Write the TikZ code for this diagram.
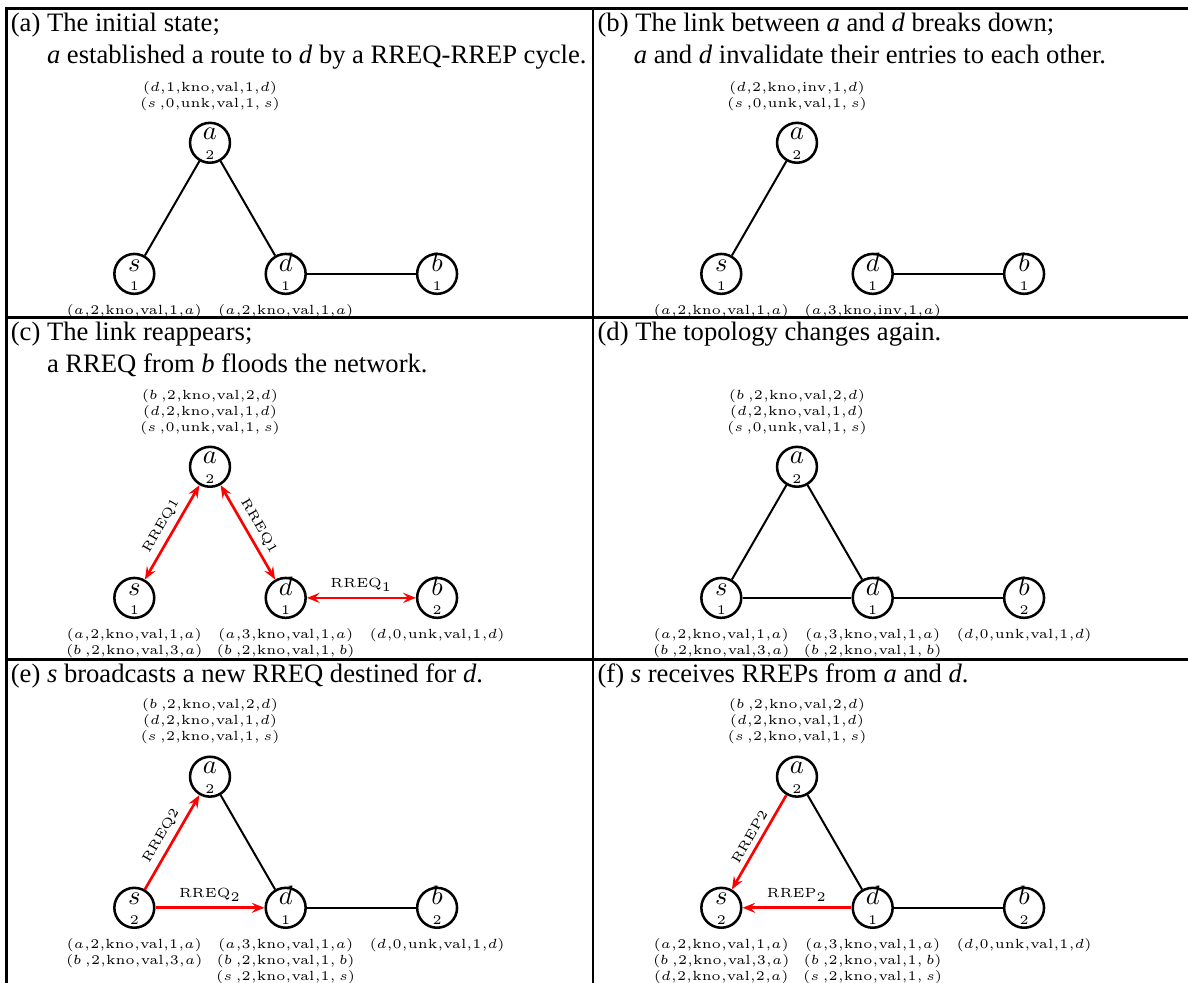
\documentclass[tikz,border=0pt]{standalone}
\usepackage[no-math]{fontspec}
\setmainfont{Liberation Serif}
\usetikzlibrary{arrows.meta}
\newcommand\myent[6]{$(#1{,}#2{,}\mathrm{#3}{,}\mathrm{#4}{,}#5{,}#6)$}
\newcommand\mknodes[5]{%
  \node[nd] (s#1) at (134.3,131.1) {};
  \node[nd] (a#1) at (210,0) {};
  \node[nd] (d#1) at (285.7,131.1) {};
  \node[nd] (b#1) at (437.1,131.1) {};
  \node[ltr] (s#1L) at ([yshift=1.05pt]s#1.center) {$s$};
  \node[ltr] (a#1L) at ([yshift=1.05pt]a#1.center) {$a$};
  \node[ltr] (d#1L) at ([yshift=1.05pt]d#1.center) {$d$};
  \node[ltr] (b#1L) at ([yshift=1.05pt]b#1.center) {$b$};
  \node[numtxt] (s#1N) at ([yshift=-6.2pt]s#1.center) {$#2$};
  \node[numtxt] (a#1N) at ([yshift=-6.2pt]a#1.center) {$#3$};
  \node[numtxt] (d#1N) at ([yshift=-6.2pt]d#1.center) {$#4$};
  \node[numtxt] (b#1N) at ([yshift=-6.2pt]b#1.center) {$#5$};
}
\begin{document}
\begin{tikzpicture}[x=0.37586pt,y=-0.37586pt,
  >={Stealth[length=4.8pt,width=3.8pt,inset=1.8pt]},
  nd/.style={circle,draw,line width=0.95pt,minimum size=15pt,inner sep=0pt},
  ltr/.style={anchor=base,inner sep=0pt,font=\normalsize},
  numtxt/.style={anchor=base,inner sep=0pt,font=\tiny},
  labtxt/.style={align=center,inner sep=0pt,font=\tiny},
  labup/.style={labtxt,anchor=south,yshift=12pt},
  labdn/.style={labtxt,anchor=north,yshift=-11.46pt},
  lnk/.style={line width=0.75pt},
  msg/.style={draw=red,line width=1pt},
  mlab/.style={font=\tiny,midway,above,sloped,inner sep=2pt},
  captxt/.style={anchor=base west,inner sep=0pt,font=\fontsize{10}{12}\selectfont},
  frm/.style={line width=0.95pt}]
\useasboundingbox (0,0) rectangle (1188,983);
% frame
\draw[line width=1.1pt] (5,8.5) -- (1188,8.5);
\draw[frm] (5,317.5) -- (1188,317.5);
\draw[frm] (5,659.5) -- (1188,659.5);
\draw[frm] (6.5,8.5) -- (6.5,983);
\draw[frm] (593,8.5) -- (593,983);
% captions
\node[captxt] (ca1) at (10.3,31.7) {(a) The initial state;};
\node[captxt] (ca2) at (46.5,63.6) {\textit{a} established a route to \textit{d} by a RREQ-RREP cycle.};
\node[captxt] (cb1) at (597.1,31.7) {(b) The link between \textit{a} and \textit{d} breaks down;};
\node[captxt] (cb2) at (633.3,63.6) {\textit{a} and \textit{d} invalidate their entries to each other.};
\node[captxt] (cc1) at (10.3,340.7) {(c) The link reappears;};
\node[captxt] (cc2) at (46.5,372.6) {a RREQ from \textit{b} floods the network.};
\node[captxt] (cd1) at (597.1,340.7) {(d) The topology changes again.};
\node[captxt] (ce1) at (10.3,682.7) {(e) \textit{s} broadcasts a new RREQ destined for \textit{d}.};
\node[captxt] (cf1) at (597.1,682.7) {(f) \textit{s} receives RREPs from \textit{a} and \textit{d}.};
% panel a
\begin{scope}[shift={(0,142.8)}]
\mknodes{1}{1}{2}{1}{1}
\draw[lnk] (s1) -- (a1);
\draw[lnk] (a1) -- (d1);
\draw[lnk] (d1) -- (b1);
\node[labup] (la1) at (a1.center) {\myent{d}{1}{kno}{val}{1}{d}\\\myent{s\,}{0}{unk}{val}{1}{\,s}};
\node[labdn] (ls1) at (s1.center) {\myent{a}{2}{kno}{val}{1}{a}};
\node[labdn] (ld1) at (d1.center) {\myent{a}{2}{kno}{val}{1}{a}};
\end{scope}
% panel b
\begin{scope}[shift={(587,142.8)}]
\mknodes{2}{1}{2}{1}{1}
\draw[lnk] (s2) -- (a2);
\draw[lnk] (d2) -- (b2);
\node[labup] (la2) at (a2.center) {\myent{d}{2}{kno}{inv}{1}{d}\\\myent{s\,}{0}{unk}{val}{1}{\,s}};
\node[labdn] (ls2) at (s2.center) {\myent{a}{2}{kno}{val}{1}{a}};
\node[labdn] (ld2) at (d2.center) {\myent{a}{3}{kno}{inv}{1}{a}};
\end{scope}
% panel c
\begin{scope}[shift={(0,466.8)}]
\mknodes{3}{1}{2}{1}{2}
\draw[msg,<->] (s3) -- node[mlab] (m3sa) {$\mathrm{RREQ1}$} (a3);
\draw[msg,<->] (a3) -- node[mlab] (m3ad) {$\mathrm{RREQ1}$} (d3);
\draw[msg,<->] (d3) -- node[mlab] (m3db) {$\mathrm{RREQ}_1$} (b3);
\node[labup] (la3) at (a3.center) {\myent{b\,}{2}{kno}{val}{2}{d}\\\myent{d}{2}{kno}{val}{1}{d}\\\myent{s\,}{0}{unk}{val}{1}{\,s}};
\node[labdn] (ls3) at (s3.center) {\myent{a}{2}{kno}{val}{1}{a}\\\myent{b\,}{2}{kno}{val}{3}{a}};
\node[labdn] (ld3) at (d3.center) {\myent{a}{3}{kno}{val}{1}{a}\\\myent{b\,}{2}{kno}{val}{1}{\,b}};
\node[labdn] (lb3) at (b3.center) {\myent{d}{0}{unk}{val}{1}{d}};
\end{scope}
% panel d
\begin{scope}[shift={(587,466.8)}]
\mknodes{4}{1}{2}{1}{2}
\draw[lnk] (s4) -- (a4);
\draw[lnk] (a4) -- (d4);
\draw[lnk] (s4) -- (d4);
\draw[lnk] (d4) -- (b4);
\node[labup] (la4) at (a4.center) {\myent{b\,}{2}{kno}{val}{2}{d}\\\myent{d}{2}{kno}{val}{1}{d}\\\myent{s\,}{0}{unk}{val}{1}{\,s}};
\node[labdn] (ls4) at (s4.center) {\myent{a}{2}{kno}{val}{1}{a}\\\myent{b\,}{2}{kno}{val}{3}{a}};
\node[labdn] (ld4) at (d4.center) {\myent{a}{3}{kno}{val}{1}{a}\\\myent{b\,}{2}{kno}{val}{1}{\,b}};
\node[labdn] (lb4) at (b4.center) {\myent{d}{0}{unk}{val}{1}{d}};
\end{scope}
% panel e
\begin{scope}[shift={(0,776.7)}]
\mknodes{5}{2}{2}{1}{2}
\draw[msg,->] (s5) -- node[mlab] (m5sa) {$\mathrm{RREQ2}$} (a5);
\draw[msg,->] (s5) -- node[mlab] (m5sd) {$\mathrm{RREQ}_2$} (d5);
\draw[lnk] (a5) -- (d5);
\draw[lnk] (d5) -- (b5);
\node[labup] (la5) at (a5.center) {\myent{b\,}{2}{kno}{val}{2}{d}\\\myent{d}{2}{kno}{val}{1}{d}\\\myent{s\,}{2}{kno}{val}{1}{\,s}};
\node[labdn] (ls5) at (s5.center) {\myent{a}{2}{kno}{val}{1}{a}\\\myent{b\,}{2}{kno}{val}{3}{a}};
\node[labdn] (ld5) at (d5.center) {\myent{a}{3}{kno}{val}{1}{a}\\\myent{b\,}{2}{kno}{val}{1}{\,b}\\\myent{s\,}{2}{kno}{val}{1}{\,s}};
\node[labdn] (lb5) at (b5.center) {\myent{d}{0}{unk}{val}{1}{d}};
\end{scope}
% panel f
\begin{scope}[shift={(587,776.7)}]
\mknodes{6}{2}{2}{1}{2}
\draw[msg,->] (a6) -- node[mlab] (m6as) {$\mathrm{RREP2}$} (s6);
\draw[msg,->] (d6) -- node[mlab] (m6ds) {$\mathrm{RREP}_2$} (s6);
\draw[lnk] (a6) -- (d6);
\draw[lnk] (d6) -- (b6);
\node[labup] (la6) at (a6.center) {\myent{b\,}{2}{kno}{val}{2}{d}\\\myent{d}{2}{kno}{val}{1}{d}\\\myent{s\,}{2}{kno}{val}{1}{\,s}};
\node[labdn] (ls6) at (s6.center) {\myent{a}{2}{kno}{val}{1}{a}\\\myent{b\,}{2}{kno}{val}{3}{a}\\\myent{d}{2}{kno}{val}{2}{a}};
\node[labdn] (ld6) at (d6.center) {\myent{a}{3}{kno}{val}{1}{a}\\\myent{b\,}{2}{kno}{val}{1}{\,b}\\\myent{s\,}{2}{kno}{val}{1}{\,s}};
\node[labdn] (lb6) at (b6.center) {\myent{d}{0}{unk}{val}{1}{d}};
\end{scope}
\end{tikzpicture}
\end{document}
